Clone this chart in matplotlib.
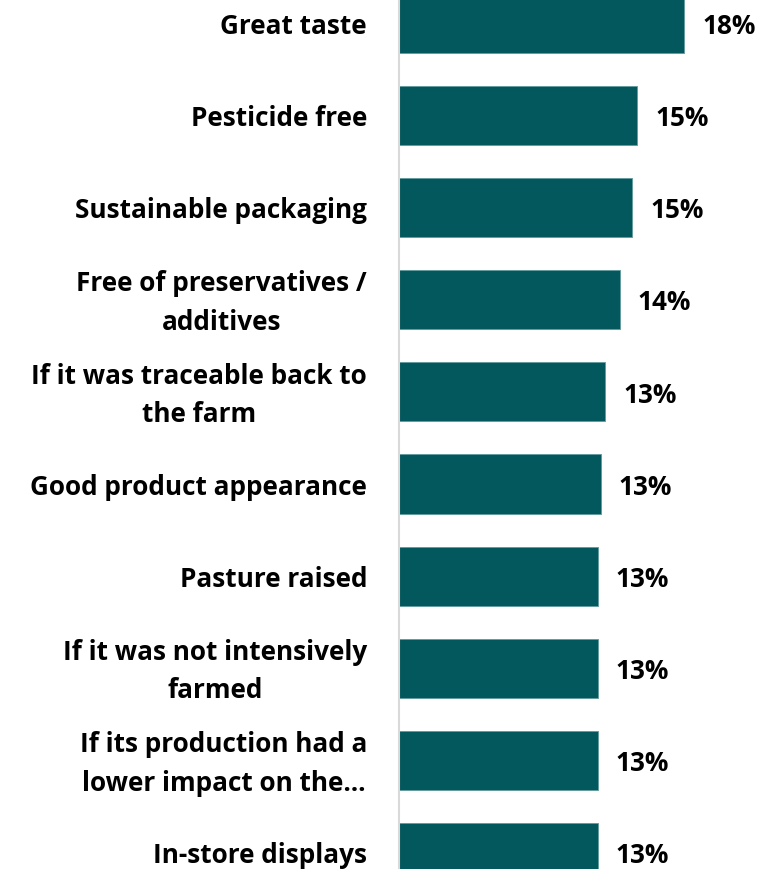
import matplotlib
matplotlib.use("Agg")
import matplotlib.pyplot as plt

categories = [
    "Great taste",
    "Pesticide free",
    "Sustainable packaging",
    "Free of preservatives /\nadditives",
    "If it was traceable back to\nthe farm",
    "Good product appearance",
    "Pasture raised",
    "If it was not intensively\nfarmed",
    "If its production had a\nlower impact on the…",
    "In-store displays",
]
values = [18.1, 15.1, 14.8, 14.0, 13.1, 12.8, 12.6, 12.6, 12.6, 12.6]
value_labels = ["18%", "15%", "15%", "14%", "13%", "13%", "13%", "13%", "13%", "13%"]

W, H = 761, 869
fig = plt.figure(figsize=(W / 100, H / 100), dpi=100)
ax = fig.add_axes([399 / W, 0, 1 - 399 / W, 1])

font = ["Open Sans", "DejaVu Sans"]
ypos = list(range(len(categories)))
ax.barh(ypos, values, height=0.641, color="#02585D", edgecolor="#5F9A9D", linewidth=0.6)

ax.set_xlim(0, (W - 399) / 15.76)
ax.set_ylim(9.18, -0.255)

for y, v, lab in zip(ypos, values, value_labels):
    ax.annotate(lab, (v, y), xytext=(13, -2.3), textcoords="offset points",
                ha="left", va="center", fontsize=18.8, fontweight="bold",
                family=font, color="black")

for y, cat in zip(ypos, categories):
    multi = "\n" in cat
    ax.annotate(cat, (0, y), xycoords=("axes fraction", "data"),
                xytext=(-23, -2.5 if multi else 0), textcoords="offset points",
                ha="right", va="center" if multi else "center_baseline",
                multialignment="center", linespacing=1.55,
                fontsize=18.8, fontweight="bold", family=font, color="black",
                annotation_clip=False)

ax.set_yticks([])
ax.set_xticks([])

for s in ["top", "right", "bottom"]:
    ax.spines[s].set_visible(False)
ax.spines["left"].set_color("#D9D9D9")
ax.spines["left"].set_linewidth(1.5)

fig.savefig("out.png", dpi=100)
